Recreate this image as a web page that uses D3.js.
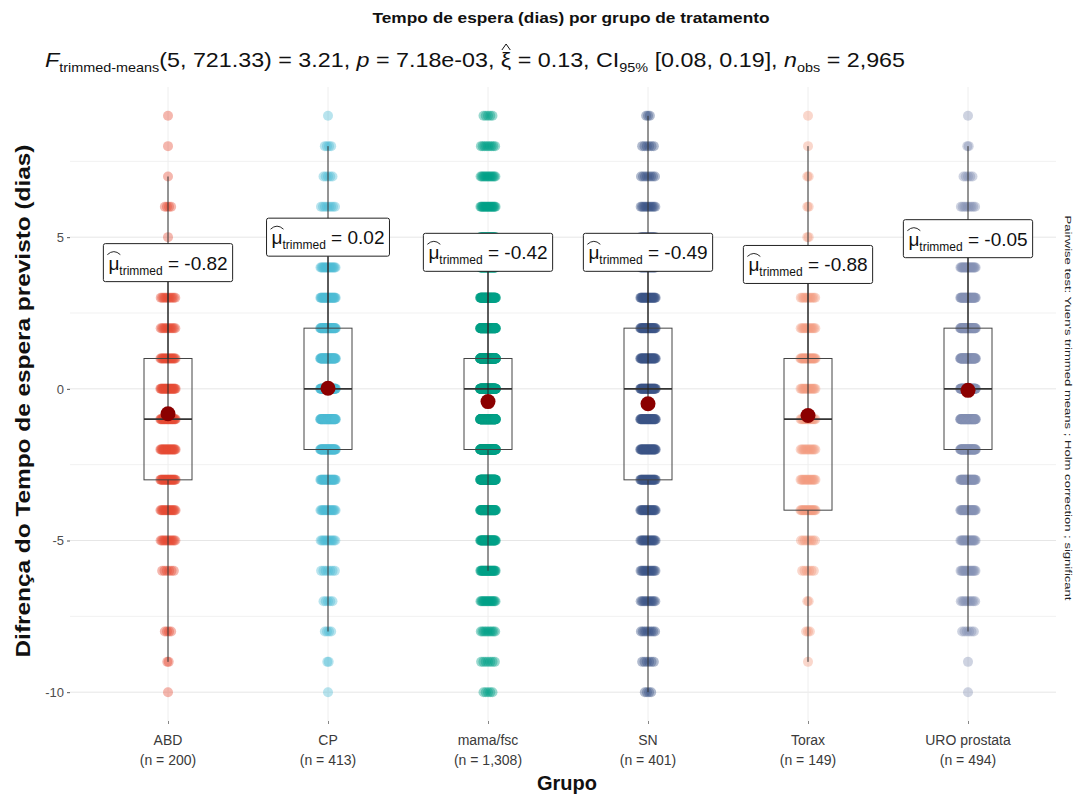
<!DOCTYPE html>
<html>
<head>
<meta charset="utf-8">
<script src="https://cdn.jsdelivr.net/npm/d3@7"></script>
<style>
  body { margin: 0; background: #fff; }
  svg { display: block; font-family: "Liberation Sans", Arial, sans-serif; }
</style>
</head>
<body>
<svg id="chart" width="1083" height="801"></svg>
<script>
// ---- data ----
const groups = ["ABD", "CP", "mama/fsc", "SN", "Torax", "URO prostata"];
const groupN = [200, 413, 1308, 401, 149, 494];
const trimmedMeans = [-0.82, 0.02, -0.42, -0.49, -0.88, -0.05];
const levels = [9, 8, 7, 6, 5, 4, 3, 2, 1, 0, -1, -2, -3, -4, -5, -6, -7, -8, -9, -10];
// number of patients at each level (same order as `levels`)
const countsABD   = [1, 1, 1, 4, 1, 4, 11, 12, 20, 25, 28, 23, 25, 18, 13, 6, 0, 4, 2, 1];
const countsCP    = [1, 4, 5, 8, 12, 18, 28, 45, 50, 60, 55, 50, 28, 18, 12, 7, 5, 4, 2, 1];
const countsMama  = [5, 9, 14, 20, 30, 50, 75, 110, 200, 190, 170, 160, 95, 65, 45, 30, 18, 10, 7, 5];
const countsSN    = [3, 6, 8, 12, 16, 22, 28, 35, 35, 40, 40, 35, 30, 25, 20, 15, 12, 9, 6, 4];
const countsTorax = [1, 1, 2, 2, 2, 5, 10, 12, 22, 14, 14, 12, 14, 18, 8, 6, 2, 3, 1, 0];
const countsURO   = [1, 2, 5, 9, 14, 22, 35, 50, 60, 65, 60, 55, 35, 28, 20, 15, 10, 6, 1, 1];
const groupCounts = [countsABD, countsCP, countsMama, countsSN, countsTorax, countsURO];
const yTicks = [-10, -5, 0, 5];
const yMinor = [-7.5, -2.5, 2.5, 7.5];

// ---- text ----
const titleText = "Tempo de espera (dias) por grupo de tratamento";
const yTitle = "Difrença do Tempo de espera previsto (dias)";
const xTitle = "Grupo";
const captionText = "Pairwise test: Yuen's trimmed means ; Holm correction ; significant";

// ---- appearance ----
const palette = ["#E64B35", "#4DBBD5", "#00A087", "#3C5488", "#F39B7F", "#8491B4"];
const labelCenter = [4.16, 5.0, 4.5, 4.5, 4.1, 4.95]; // value at which each mean label sits

const svg = d3.select("#chart");
const x = d3.scalePoint().domain(groups).range([72, 1064]).padding(0.6);
const y = d3.scaleLinear().domain([-10.95, 9.95]).range([721, 87]);
const gridX0 = 70, gridX1 = 1056;
const hyphen = s => String(s).replace(/\u2212/g, "-");

// grid
const grid = svg.append("g");
grid.selectAll("line.minor").data(yMinor).join("line")
  .attr("x1", gridX0).attr("x2", gridX1)
  .attr("y1", d => y(d)).attr("y2", d => y(d))
  .attr("stroke", "#f1f1f1").attr("stroke-width", 1);
grid.selectAll("line.major").data(yTicks).join("line")
  .attr("x1", gridX0).attr("x2", gridX1)
  .attr("y1", d => y(d)).attr("y2", d => y(d))
  .attr("stroke", "#e6e6e6").attr("stroke-width", 1);
grid.selectAll("line.vx").data(groups).join("line")
  .attr("x1", d => x(d)).attr("x2", d => x(d))
  .attr("y1", y.range()[1]).attr("y2", y.range()[0])
  .attr("stroke", "#eeeeee").attr("stroke-width", 1);

// y axis
const yAxis = svg.append("g").attr("transform", `translate(${gridX0},0)`)
  .call(d3.axisLeft(y).tickValues(yTicks).tickSize(3).tickPadding(3).tickFormat(d => hyphen(d)));
yAxis.select(".domain").remove();
yAxis.selectAll(".tick line").attr("stroke", "#555");
yAxis.selectAll(".tick text").attr("fill", "#4d4d4d").style("font-size", "13px")
  .style("font-family", "'Liberation Sans', Arial, sans-serif");

// x axis
const xAxis = svg.append("g").attr("transform", `translate(0,${y.range()[0]})`)
  .call(d3.axisBottom(x).tickSize(3).tickPadding(4).tickFormat(""));
xAxis.select(".domain").remove();
xAxis.selectAll(".tick line").attr("stroke", "#888");
const fmtN = d3.format(",");
groups.forEach((gname, i) => {
  const t = svg.append("text").attr("x", x(gname)).attr("text-anchor", "middle")
    .attr("fill", "#3a3a3a").style("font-size", "14px");
  t.append("tspan").attr("x", x(gname)).attr("y", 745).text(gname);
  t.append("tspan").attr("x", x(gname)).attr("y", 765).text(`(n = ${fmtN(groupN[i])})`);
});

// points (spread horizontally around each group centre)
const pts = svg.append("g");
groups.forEach((gname, gi) => {
  const cx = x(gname);
  levels.forEach((lv, li) => {
    const c = groupCounts[gi][li];
    if (!c) return;
    const w = Math.min(8, 1.4 * (c - 1));
    const offs = d3.range(c).map(k => c === 1 ? 0 : w * ((k + 0.5) / c * 2 - 1));
    pts.selectAll(null).data(offs).join("circle")
      .attr("cx", o => cx + o).attr("cy", y(lv)).attr("r", 5)
      .attr("fill", palette[gi]).attr("fill-opacity", 0.4);
  });
});

// box plots
const boxW = 48;
const boxes = svg.append("g");
const stats = groups.map((gname, gi) => {
  const vals = [];
  levels.forEach((lv, li) => { for (let k = 0; k < groupCounts[gi][li]; k++) vals.push(lv); });
  vals.sort(d3.ascending);
  const q1 = d3.quantile(vals, 0.25), med = d3.quantile(vals, 0.5), q3 = d3.quantile(vals, 0.75);
  const iqr = q3 - q1;
  const hi = d3.max(vals.filter(v => v <= q3 + 1.5 * iqr));
  const lo = d3.min(vals.filter(v => v >= q1 - 1.5 * iqr));
  return { gname, q1, med, q3, hi, lo };
});
stats.forEach(s => {
  const cx = x(s.gname);
  boxes.append("line").attr("x1", cx).attr("x2", cx).attr("y1", y(s.hi)).attr("y2", y(s.q3))
    .attr("stroke", "#333").attr("stroke-width", 1);
  boxes.append("line").attr("x1", cx).attr("x2", cx).attr("y1", y(s.q1)).attr("y2", y(s.lo))
    .attr("stroke", "#333").attr("stroke-width", 1);
  boxes.append("rect").attr("x", cx - boxW / 2).attr("width", boxW)
    .attr("y", y(s.q3)).attr("height", y(s.q1) - y(s.q3))
    .attr("fill", "none").attr("stroke", "#444").attr("stroke-width", 1);
  boxes.append("line").attr("x1", cx - boxW / 2).attr("x2", cx + boxW / 2)
    .attr("y1", y(s.med)).attr("y2", y(s.med)).attr("stroke", "#333").attr("stroke-width", 1.6);
});

// mean labels with connectors
const fmt2 = d3.format(".2f");
const labels = svg.append("g");
groups.forEach((gname, gi) => {
  const cx = x(gname), cy = y(labelCenter[gi]);
  const m = trimmedMeans[gi];
  labels.append("line").attr("x1", cx).attr("x2", cx).attr("y1", cy).attr("y2", y(m))
    .attr("stroke", "#222").attr("stroke-width", 1);
  const lg = labels.append("g").attr("transform", `translate(${cx},${cy})`);
  const rect = lg.append("rect").attr("fill", "#fff").attr("stroke", "#222")
    .attr("stroke-width", 1).attr("rx", 2);
  const t = lg.append("text").attr("y", 7).attr("fill", "#111");
  t.append("tspan").style("font-size", "19px").text("μ");
  t.append("tspan").attr("dy", 5).style("font-size", "12px").text("trimmed");
  t.append("tspan").attr("dy", -5).style("font-size", "19px").text(` = ${hyphen(fmt2(m))}`);
  const bb = t.node().getBBox();
  t.attr("x", -bb.width / 2);
  t.selectAll("tspan").filter((d, k) => k === 0).attr("x", -bb.width / 2);
  const h = 38, w = bb.width + 10;
  rect.attr("x", -w / 2).attr("y", -h / 2).attr("width", w).attr("height", h);
  const mu = t.node().getExtentOfChar(0);
  lg.append("path")
    .attr("d", `M${mu.x - 1},${-8} Q${mu.x + mu.width / 2},${-14} ${mu.x + mu.width + 1},${-8}`)
    .attr("fill", "none").attr("stroke", "#111").attr("stroke-width", 0.9);
});

// trimmed-mean points
svg.append("g").selectAll("circle").data(groups).join("circle")
  .attr("cx", d => x(d)).attr("cy", (d, i) => y(trimmedMeans[i])).attr("r", 7.5)
  .attr("fill", "#8B0000");

// title and subtitle
svg.append("text").attr("x", 571).attr("y", 23).attr("text-anchor", "middle")
  .attr("textLength", 397).attr("lengthAdjust", "spacingAndGlyphs")
  .style("font-size", "15px").style("font-weight", "bold").attr("fill", "#111").text(titleText);

const sub = svg.append("text").attr("x", 45).attr("y", 67).attr("fill", "#111")
  .style("font-size", "21px").attr("textLength", 860).attr("lengthAdjust", "spacingAndGlyphs");
sub.append("tspan").style("font-style", "italic").text("F");
sub.append("tspan").attr("dy", 5).style("font-size", "13px").text("trimmed-means");
sub.append("tspan").attr("dy", -5).text("(5, 721.33) = 3.21, ");
sub.append("tspan").style("font-style", "italic").text("p");
sub.append("tspan").text(" = 7.18e-03, ");
sub.append("tspan").text("ξ");
sub.append("tspan").text(" = 0.13, CI");
sub.append("tspan").attr("dy", 5).style("font-size", "13px").text("95%");
sub.append("tspan").attr("dy", -5).text(" [0.08, 0.19], ");
sub.append("tspan").style("font-style", "italic").text("n");
sub.append("tspan").attr("dy", 5).style("font-size", "13px").text("obs");
sub.append("tspan").attr("dy", -5).text(" = 2,965");
{
  const full = sub.text();
  const xi = sub.node().getExtentOfChar(full.indexOf("ξ"));
  svg.append("path")
    .attr("d", `M${xi.x + 1},${xi.y + 2} L${xi.x + xi.width / 2},${xi.y - 4} L${xi.x + xi.width - 1},${xi.y + 2}`)
    .attr("fill", "none").attr("stroke", "#111").attr("stroke-width", 1);
}

// axis titles
svg.append("text").attr("transform", "translate(30,401) rotate(-90)").attr("text-anchor", "middle")
  .attr("textLength", 513).attr("lengthAdjust", "spacingAndGlyphs")
  .style("font-size", "20px").style("font-weight", "bold").attr("fill", "#111").text(yTitle);
svg.append("text").attr("x", 567).attr("y", 790).attr("text-anchor", "middle")
  .style("font-size", "20px").style("font-weight", "bold").attr("fill", "#111").text(xTitle);

// caption
svg.append("text").attr("transform", "translate(1065,408) rotate(90)").attr("text-anchor", "middle")
  .attr("textLength", 385).attr("lengthAdjust", "spacingAndGlyphs")
  .style("font-size", "9px").attr("fill", "#222").text(captionText);
</script>
</body>
</html>
